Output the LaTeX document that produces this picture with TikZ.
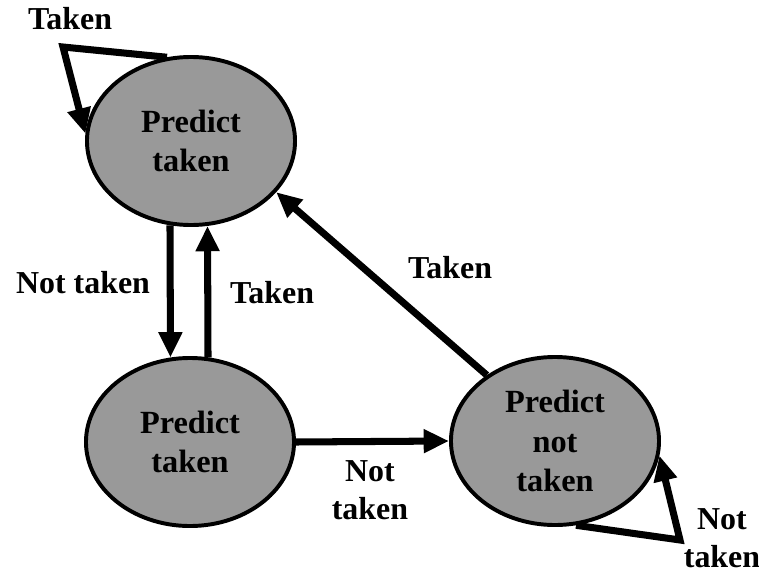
\documentclass[tikz,border=0pt]{standalone}
\usepackage{fontspec}
\setmainfont{Liberation Serif}
\usetikzlibrary{arrows.meta, shapes.geometric}

\tikzset{
  state/.style={ellipse, draw=black, line width=2.8pt, fill=black!40,
    minimum width=5.2cm, minimum height=4.2cm, inner sep=0pt,
    align=center, font=\fontsize{23}{28}\selectfont\bfseries},
  arr/.style={-{Triangle[length=18pt,width=16pt]}, line width=5pt},
  lbl/.style={align=center, font=\fontsize{22.7}{27}\selectfont\bfseries}
}

\begin{document}
\begin{tikzpicture}[x=0.025cm, y=-0.025cm]
\useasboundingbox (0,0) rectangle (759,573);
% the three states
\node[state] (st) at (191,141) {Predict\\taken};
\node[state] (wt) at (190,442) {Predict\\taken};
\node[state] (nt) at (555,441) {Predict\\not\\taken};
\coordinate (c1) at (63,47);
\coordinate (c2) at (680,540);
% transitions
\draw[arr] (st.106) -- (c1) -- (st.176);
\draw[arr] (st.256) -- (wt.103);
\draw[arr] (wt.78) -- (st.281);
\draw[arr] (wt.east) -- (nt.west);
\draw[arr] (nt.136) -- (st.329);
\draw[arr] (nt.284) -- (c2) -- (nt.352);
% labels
\node[lbl] (l1) at (70,19) {Taken};
\node[lbl] (l2) at (83,283) {Not taken};
\node[lbl] (l3) at (272,293) {Taken};
\node[lbl] (l4) at (450,268) {Taken};
\node[lbl] (l5) at (370,490) {Not\\taken};
\node[lbl, inner sep=1pt] (l6) at (722,538) {Not\\taken};
\end{tikzpicture}
\end{document}
